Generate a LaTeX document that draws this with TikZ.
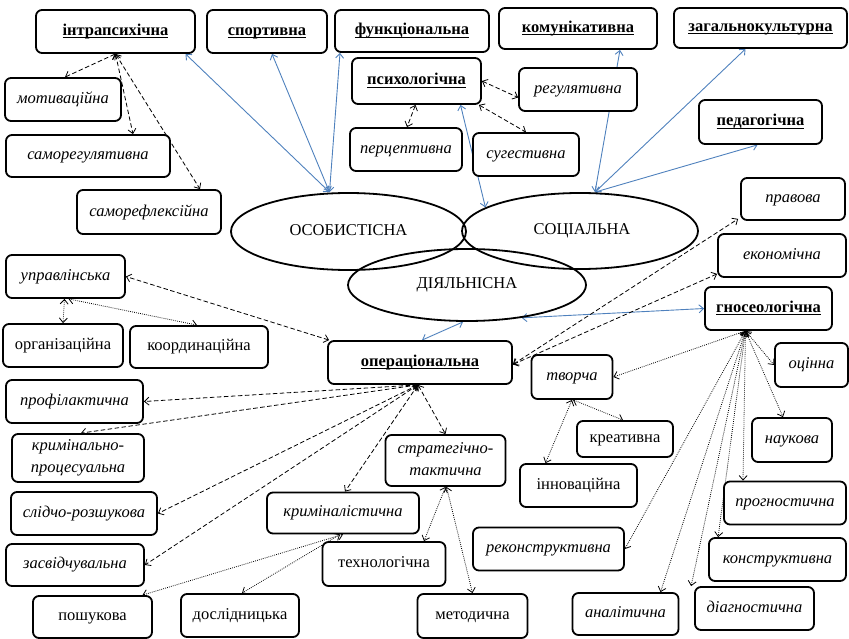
\documentclass[tikz,border=0pt]{standalone}
\usepackage{fontspec}
\setmainfont{Liberation Serif}
\usetikzlibrary{arrows.meta,shapes.geometric}
\definecolor{lnblue}{HTML}{4F81BD}
\newsavebox\ulbox
\newcommand{\myul}[1]{\sbox\ulbox{#1}\rlap{\smash{\rule[-2.6pt]{\wd\ulbox}{1pt}}}\usebox\ulbox}
\newcommand{\linestrut}{\rule[-3.6pt]{0pt}{14.7pt}}
\pgfdeclarelayer{bg}
\pgfsetlayers{bg,main}
\tikzset{
  dims/.style 2 args={minimum width=#1, minimum height=#2},
  box/.style={draw, line width=1.8pt, rounded corners=6pt, fill=white, inner sep=0pt, align=center, font=\fontsize{16.5}{22}\selectfont, execute at begin node=\linestrut},
  bbox/.style={box, font=\fontsize{16.5}{22}\selectfont\bfseries},
  ibox/.style={box, font=\fontsize{16.5}{22}\selectfont\itshape},
  ell/.style={draw, ellipse, line width=1.8pt, inner sep=0pt, font=\fontsize{16.5}{22}\selectfont, execute at begin node=\linestrut},
  blueln/.style={draw=lnblue, line width=0.9pt, <->},
  dashln/.style={draw=black, line width=0.8pt, dash pattern=on 4.5pt off 2.5pt, <->},
  dotln/.style={draw=black, line width=0.8pt, dash pattern=on 0.8pt off 1.2pt, <->},
}
\begin{document}
\begin{tikzpicture}[x=1pt,y=-1pt, >={Straight Barb[length=4.5pt,width=8pt]}]
\useasboundingbox (0,0) rectangle (849,639);
% top row
\node[bbox, dims={159}{43}] (intra) at (115.5,31.5) {\myul{інтрапсихічна}};
\node[bbox, dims={120}{43}] (sport) at (267,31.5) {\myul{спортивна}};
\node[bbox, dims={154}{42}] (func) at (412,31) {\myul{функціональна}};
\node[bbox, dims={158}{41}] (komm) at (578,28.5) {\myul{комунікативна}};
\node[bbox, dims={173}{40}] (zag) at (760.5,28) {\myul{загальнокультурна}};
% second layer
\node[bbox, dims={129}{46}] (psych) at (416.5,81) {\myul{психологічна}};
\node[ibox, dims={118}{43}] (regul) at (578,89.5) {регулятивна};
\node[bbox, dims={123}{44}] (ped) at (760.5,122) {\myul{педагогічна}};
\node[ibox, dims={116}{43}] (motiv) at (63,99.5) {мотиваційна};
\node[ibox, dims={164}{42}] (samoreg) at (88,156) {саморегулятивна};
\node[ibox, dims={144}{44}] (samorefl) at (149,212) {саморефлексійна};
\node[ibox, dims={112}{43}] (perc) at (406,149.5) {перцептивна};
\node[ibox, dims={106}{43}] (sug) at (526,154.5) {сугестивна};
\node[ibox, dims={104}{42}] (prav) at (793,199) {правова};
% ellipses
\node[ell, dims={235}{77}] (oso) at (348.5,231.5) {ОСОБИСТІСНА};
\node[ell, dims={236}{76}] (soc) at (580,231) {\hspace*{4pt}СОЦІАЛЬНА};
\node[ell, dims={238}{72}] (dia) at (467,285) {ДІЯЛЬНІСНА};
% middle
\node[ibox, dims={119}{43}] (uprav) at (65.5,276.5) {управлінська};
\node[box, dims={120}{43}] (org) at (63,345.5) {організаційна};
\node[box, dims={138}{42}] (koord) at (199,347) {координаційна};
\node[bbox, dims={184}{43}] (oper) at (420,362.5) {\myul{операціональна}};
\node[ibox, dims={128}{43}] (econ) at (782,255.5) {економічна};
\node[bbox, dims={127}{43}] (gnos) at (768.5,308.5) {\myul{гносеологічна}};
% lower left
\node[ibox, dims={137}{43}] (profil) at (74.5,401.5) {профілактична};
\node[ibox, dims={132}{48}] (kp) at (78,458) {кримінально-\\процесуальна};
\node[ibox, dims={146}{43}] (sl) at (84,513.5) {слідчо-розшукова};
\node[ibox, dims={138}{42}] (zasv) at (75,565) {засвідчувальна};
\node[box, dims={119}{42}] (posh) at (92.5,617) {пошукова};
\node[box, dims={118}{43}] (dosl) at (240,615.5) {дослідницька};
\node[ibox, dims={152}{41}] (krim) at (343,513) {криміналістична};
\node[box, dims={123}{44}] (tech) at (384,564) {технологічна};
\node[ibox, dims={120}{51}] (strat) at (445.5,460.5) {стратегічно-\\тактична\linestrut};
\node[box, dims={110}{44}] (meth) at (472.5,616) {методична};
% lower right
\node[ibox, dims={81}{44}] (tvor) at (572,377) {творча};
\node[box, dims={96}{36}] (kreat) at (625,439) {креативна};
\node[box, dims={117}{43}] (innov) at (578.5,485.5) {інноваційна};
\node[ibox, dims={151}{43}] (rekon) at (548.5,549) {реконструктивна};
\node[ibox, dims={106}{42}] (anal) at (625.5,614) {аналітична};
\node[ibox, dims={119}{43}] (diag) at (754.5,608.5) {діагностична};
\node[ibox, dims={137}{43}] (konstr) at (777.5,559.5) {конструктивна};
\node[ibox, dims={122}{43}] (progn) at (785,503) {прогностична};
\node[ibox, dims={80}{44}] (nauk) at (792,440) {наукова};
\node[ibox, dims={73}{44}] (ocin) at (811.5,365) {оцінна};
% hubs
\coordinate (osoH) at ([xshift=-19pt]oso.north);
\coordinate (socH) at ([xshift=15pt]soc.north);
\coordinate (intraH) at (intra.south);
\coordinate (operH) at ([xshift=-2pt]oper.south);
\coordinate (gnosH) at ([xshift=-23pt]gnos.south);
\begin{pgfonlayer}{bg}
% blue connectors
\draw[blueln] (osoH) -- ([xshift=70pt]intra.south);
\draw[blueln] (osoH) -- ([xshift=5pt]sport.south);
\draw[blueln] (osoH) -- ([xshift=-72pt]func.south);
\draw[blueln] (soc.166) -- ([xshift=44pt]psych.south);
\draw[blueln] (socH) -- ([xshift=42pt]komm.south);
\draw[blueln] (socH) -- ([xshift=-15pt]zag.south);
\draw[blueln] (socH) -- ([xshift=-3pt]ped.south);
\draw[blueln] (dia.-31) -- (gnos.west);
\draw[blueln] ([xshift=-4pt]dia.south) -- ([xshift=2pt]oper.north);
% dashed connectors
\draw[dashln] (intraH) -- ([xshift=2pt]motiv.north);
\draw[dashln] (intraH) -- ([xshift=45pt]samoreg.north);
\draw[dashln] (intraH) -- ([xshift=51pt]samorefl.north);
\draw[dashln] (psych.east) -- ([yshift=-8pt]regul.west);
\draw[dashln] ([xshift=-3pt]psych.south east) -- (sug.north);
\draw[dashln] ([xshift=-1pt]psych.south) -- ([xshift=1pt]perc.north);
\draw[dashln] ([xshift=2pt]oper.north west) -- (uprav.east);
\draw[dashln] (operH) -- (profil.east);
\draw[dashln] (operH) -- ([xshift=3pt]kp.north);
\draw[dashln] (operH) -- (sl.east);
\draw[dashln] (operH) -- (zasv.east);
\draw[dashln] (operH) -- ([xshift=2pt]krim.north);
\draw[dashln] (operH) -- (strat.north);
\draw[dashln] ([yshift=-2pt]oper.east) -- ([xshift=-2pt,yshift=2pt]prav.south west);
\draw[dashln] ([yshift=-2pt]oper.east) -- ([yshift=4pt]econ.south west);
% dotted connectors
\draw[dotln] ([xshift=-1pt]uprav.south) -- (org.north);
\draw[dotln] ([xshift=3pt]uprav.south) -- ([xshift=-2pt]koord.north);
\draw[dotln] (gnosH) -- (tvor.east);
\draw[dotln] (gnosH) -- (ocin.west);
\draw[dotln] (gnosH) -- ([xshift=-9pt]nauk.north);
\draw[dotln] (gnosH) -- ([xshift=-42pt]progn.north);
\draw[dotln] (gnosH) -- ([xshift=10pt]konstr.north west);
\draw[dotln] (gnosH) -- ([xshift=-3pt]diag.north west);
\draw[dotln] (gnosH) -- ([xshift=35pt]anal.north);
\draw[dotln] (gnosH) -- (rekon.east);
\draw[dotln] ([xshift=1pt]tvor.south) -- ([xshift=-2pt]kreat.north);
\draw[dotln] (tvor.south) -- ([xshift=-33pt]innov.north);
\draw[dotln] (krim.south) -- ([xshift=50pt]posh.north);
\draw[dotln] ([xshift=-3pt]krim.south) -- ([xshift=2pt]dosl.north);
\draw[dotln] (strat.south) -- ([xshift=40pt]tech.north);
\draw[dotln] ([xshift=1pt]strat.south) -- (meth.north);
\end{pgfonlayer}
\end{tikzpicture}
\end{document}
